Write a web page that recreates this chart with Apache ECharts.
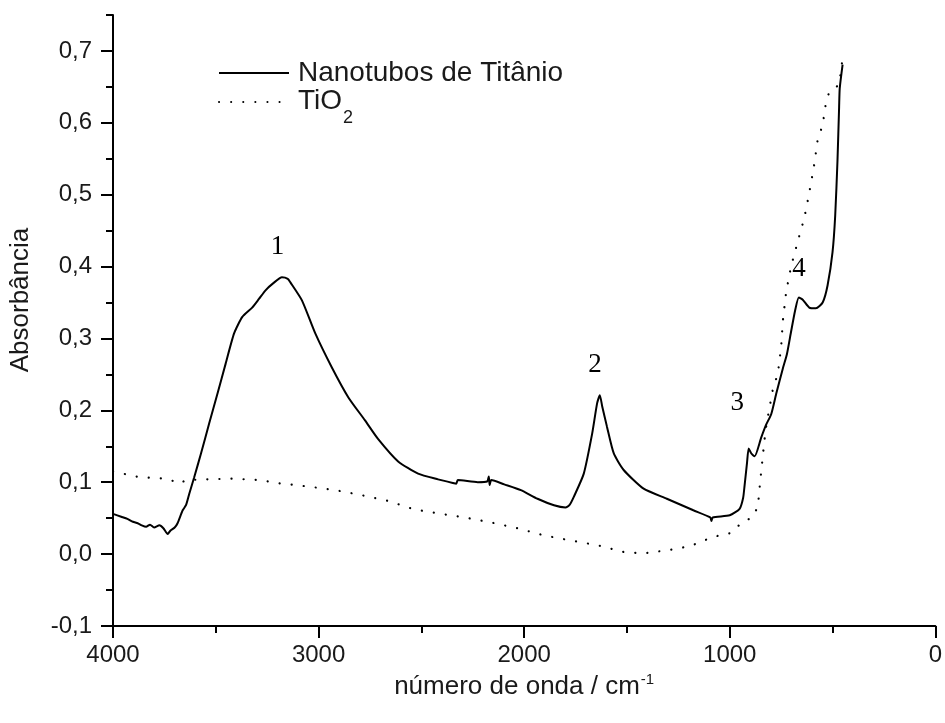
<!DOCTYPE html>
<html>
<head>
<meta charset="utf-8">
<script src="https://cdn.jsdelivr.net/npm/echarts@6/dist/echarts.min.js"></script>
<style>
html,body{margin:0;padding:0;background:#fff;}
#chart{width:945px;height:723px;}
</style>
</head>
<body>
<div id="chart"></div>
<script>
// ---- Data ----
var seriesNames = ['Nanotubos de Titânio', 'TiO2'];

var nanotubos = [
  [4000,0.056],[3960,0.052],[3930,0.049],[3903,0.045],[3880,0.043],[3860,0.040],
  [3839,0.038],[3820,0.041],[3800,0.037],[3774,0.040],[3755,0.036],[3734,0.028],
  [3720,0.033],[3700,0.037],[3686,0.043],[3661,0.061],[3645,0.068],[3629,0.084],
  [3605,0.107],[3572,0.140],[3532,0.182],[3492,0.223],[3452,0.265],[3411,0.307],
  [3371,0.330],[3323,0.343],[3290,0.355],[3258,0.367],[3220,0.377],[3178,0.385],
  [3150,0.383],[3137,0.378],[3081,0.353],[3016,0.307],[2936,0.260],[2855,0.218],
  [2774,0.186],[2710,0.160],[2613,0.129],[2516,0.112],[2419,0.104],[2347,0.099],
  [2330,0.098],[2323,0.103],[2226,0.100],[2180,0.101],[2172,0.108],[2168,0.096],
  [2160,0.103],[2097,0.097],[2016,0.089],[1935,0.077],[1855,0.068],[1799,0.065],
  [1780,0.068],[1758,0.080],[1710,0.112],[1669,0.168],[1645,0.210],[1632,0.221],
  [1620,0.205],[1597,0.177],[1564,0.140],[1516,0.117],[1419,0.091],[1306,0.077],
  [1177,0.061],[1095,0.051],[1089,0.046],[1083,0.051],[1000,0.054],[952,0.063],
  [935,0.078],[928,0.095],[916,0.127],[908,0.147],[895,0.140],[879,0.136],
  [847,0.162],[823,0.180],[798,0.195],[774,0.223],[742,0.258],[722,0.278],
  [702,0.309],[682,0.339],[664,0.357],[645,0.354],[613,0.343],[581,0.342],
  [548,0.350],[524,0.374],[500,0.420],[487,0.471],[476,0.547],[468,0.622],
  [465,0.648],[451,0.681]
];

var tio2 = [
  [4000,0.115],[3871,0.107],[3807,0.106],[3742,0.105],[3700,0.101],[3677,0.098],
  [3645,0.103],[3548,0.104],[3419,0.105],[3290,0.103],[3178,0.098],[3048,0.094],
  [2919,0.089],[2790,0.082],[2661,0.074],[2532,0.062],[2403,0.056],[2290,0.051],
  [2161,0.044],[2032,0.036],[1903,0.026],[1774,0.019],[1645,0.0125],[1516,0.003],
  [1419,0.001],[1290,0.006],[1194,0.011],[1080,0.024],[1000,0.029],[935,0.045],
  [890,0.051],[863,0.066],[852,0.101],[839,0.137],[826,0.172],[814,0.192],
  [790,0.230],[766,0.251],[750,0.288],[742,0.324],[726,0.364],[702,0.400],
  [669,0.435],[637,0.468],[613,0.503],[589,0.542],[572,0.577],[548,0.597],
  [532,0.628],[516,0.643],[492,0.648],[468,0.653],[451,0.690]
];

var peakNames = ['1','2','3','4'];
var peakCoords = [[3200,0.427],[1655,0.263],[963,0.211],[663,0.397]];

var yTickValues = [-0.1,0,0.1,0.2,0.3,0.4,0.5,0.6,0.7];

// ---- Chart ----
var chart = echarts.init(document.getElementById('chart'), null, {renderer:'canvas'});
var sans = '"Liberation Sans", Arial, sans-serif';
var serif = '"Liberation Serif", "Times New Roman", serif';

function fmtY(v){
  var r = Math.round(v*10);
  if (Math.abs(v*10 - r) > 1e-6) return '';
  return (r/10).toFixed(1).replace('.', ',');
}

var option = {
  animation: false,
  backgroundColor: '#fff',
  grid: {left: 113, right: 5, top: 15, bottom: 97, containLabel: false},
  xAxis: {
    type: 'value', min: 0, max: 4000, interval: 1000, inverse: true,
    axisLine: {show: true, onZero: false, lineStyle: {color: '#000', width: 2}},
    axisTick: {show: true, length: 12, lineStyle: {color: '#000', width: 2}},
    minorTick: {show: true, splitNumber: 2, length: 7, lineStyle: {color: '#000', width: 2}},
    splitLine: {show: false},
    axisLabel: {fontSize: 24, color: '#1a1a1a', fontFamily: sans, margin: 17,
      formatter: function(v){ return String(v); }},
    name: 'número de onda / cm{sup|-1}',
    nameLocation: 'middle', nameGap: 42,
    nameTextStyle: {fontSize: 26, color: '#1a1a1a', fontFamily: sans,
      rich: {sup: {fontSize: 15, fontFamily: sans, color: '#1a1a1a', verticalAlign: 'top', padding: [0, 0, 14, 1]}}}
  },
  yAxis: [
    {
      type: 'value', min: -0.1, max: 0.75, interval: 0.05, position: 'left',
      axisLine: {show: true, onZero: false, lineStyle: {color: '#000', width: 2}},
      axisTick: {show: true, length: 7, lineStyle: {color: '#000', width: 2}},
      axisLabel: {show: false},
      splitLine: {show: false}
    },
    {
      type: 'value', min: -0.1, max: 0.75, interval: 0.1, position: 'left', offset: 0,
      axisLine: {show: false, onZero: false},
      axisTick: {show: true, length: 12, customValues: yTickValues, lineStyle: {color: '#000', width: 2}},
      axisLabel: {show: true, customValues: yTickValues, formatter: fmtY, fontSize: 24, color: '#1a1a1a', fontFamily: sans, margin: 21},
      splitLine: {show: false}
    }
  ],
  legend: [
    {
      data: [seriesNames[0]], left: 218, top: 59, orient: 'vertical', padding: 0,
      itemWidth: 70, itemHeight: 14,
      itemStyle: {opacity: 0},
      lineStyle: {opacity: 1},
      textStyle: {fontSize: 28, color: '#1a1a1a', fontFamily: sans, padding: [0, 0, 0, 4]}
    },
    {
      data: [seriesNames[1]], left: 218, top: 87, orient: 'vertical', padding: 0,
      itemWidth: 70, itemHeight: 14,
      itemStyle: {opacity: 0},
      lineStyle: {opacity: 1},
      formatter: function(){ return '{a|TiO}{sub|2}'; },
      textStyle: {fontSize: 28, color: '#1a1a1a', fontFamily: sans,
        rich: {
          a: {fontSize: 28, fontFamily: sans, color: '#1a1a1a', lineHeight: 30, verticalAlign: 'top', padding: [0, 0, 0, 4]},
          sub: {fontSize: 18, fontFamily: sans, color: '#1a1a1a', lineHeight: 18, verticalAlign: 'top', padding: [22, 0, 0, 1]}
        }}
    }
  ],
  graphic: [
    {type: 'text', x: 21, y: 300, rotation: Math.PI/2,
     style: {text: 'Absorbância', fontSize: 26, fontFamily: sans, fill: '#1a1a1a', align: 'center', verticalAlign: 'middle'}}
  ],
  series: [
    {
      name: seriesNames[0], type: 'line', data: nanotubos, yAxisIndex: 0,
      showSymbol: false, symbol: 'none', smooth: 0.2,
      lineStyle: {color: '#000', width: 2},
      itemStyle: {color: '#000'},
      markPoint: {
        symbol: 'circle', symbolSize: 0,
        label: {show: true, position: 'inside', formatter: '{b}', fontSize: 27, fontFamily: serif, color: '#000'},
        data: peakNames.map(function(n, i){ return {name: n, coord: peakCoords[i]}; })
      }
    },
    {
      name: seriesNames[1], type: 'line', data: tio2, yAxisIndex: 0,
      showSymbol: false, symbol: 'none',
      lineStyle: {color: '#000', width: 2.2, type: [0.1, 12], cap: 'round'},
      itemStyle: {color: '#000'}
    }
  ]
};
chart.setOption(option);
</script>
</body>
</html>
